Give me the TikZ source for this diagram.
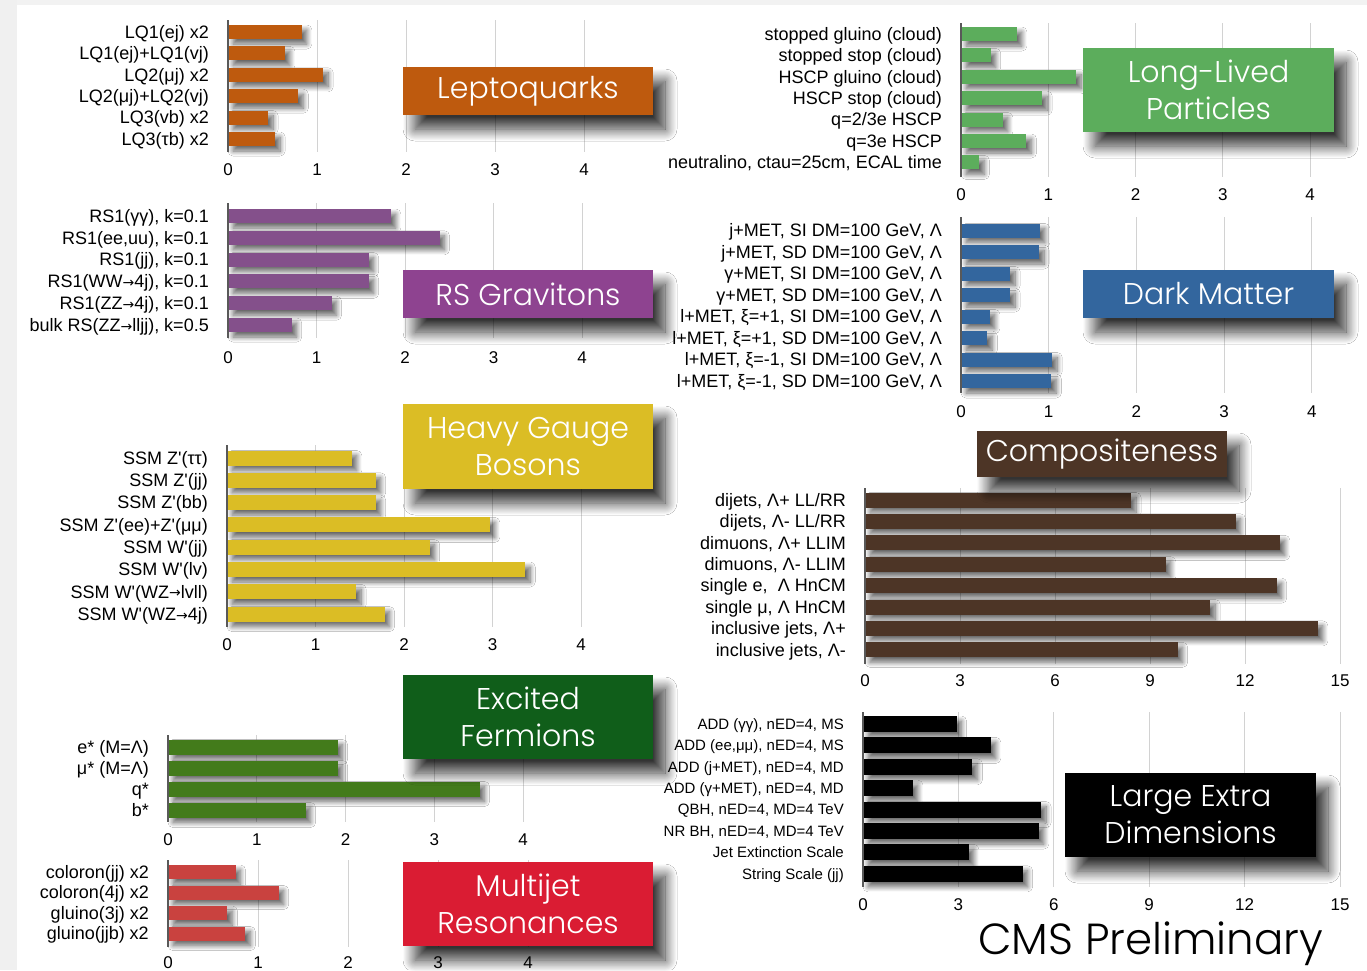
\documentclass[tikz,border=0pt]{standalone}
\usepackage{fontspec}
\setmainfont{Liberation Sans}
\newfontfamily\titlefont{Poppins Light}
\newfontfamily\symfont{DejaVu Sans}
\usepackage{tikz}
\usetikzlibrary{shadows.blur}
\usepackage{xcolor}

\definecolor{lqc}{HTML}{BE5A0E}
\definecolor{llpc}{HTML}{5CAD5C}
\definecolor{rsbar}{HTML}{84508B}
\definecolor{rsbox}{HTML}{8E4390}
\definecolor{dmc}{HTML}{33669E}
\definecolor{hgbc}{HTML}{DBBD25}
\definecolor{compc}{HTML}{4D3526}
\definecolor{efbar}{HTML}{437B1B}
\definecolor{efbox}{HTML}{105E1A}
\definecolor{mjbar}{HTML}{C9423F}
\definecolor{mjbox}{HTML}{DA1C33}

\newcommand{\rarr}{{\symfont\fontsize{14}{14}\selectfont\raisebox{0.3pt}{→}}}
\newcommand{\pr}{\textquotesingle}

\tikzset{
  gridline/.style={draw=gray!35, line width=1pt},
  axisline/.style={draw=black!65, line width=1.6pt},
  ticklbl/.style={inner sep=0, font=\fontsize{17}{19}\selectfont},
  lbl/.style={anchor=base east, inner sep=0, xshift=-19pt, yshift=-6.3pt, font=\fontsize{18}{20}\selectfont},
  barshadow/.style={blur shadow={shadow xshift=5pt, shadow yshift=-5pt, shadow blur radius=5pt, shadow blur steps=12, shadow opacity=60}},
  titlebox/.style={rectangle, inner sep=0, text=white, align=center,
    font=\titlefont\fontsize{30}{37}\selectfont,
    blur shadow={shadow xshift=12pt, shadow yshift=-14pt, shadow blur radius=12pt, shadow blur steps=20, shadow opacity=80}}
}

% #1 prefix, #2 tick list, #3 grid top, #4 grid bottom, #5 tick label y
\newcommand{\baraxis}[5]{%
  \foreach \t in {#2} {
    \draw[gridline] (\t,#3) -- (\t,#4);
    \node[ticklbl] (#1t\t) at (\t,#5) {\t};
  }
}
% #1 prefix, #2 first row, #3 row step, #4 half height, #5 colour, #6 data
\newcommand{\barrows}[6]{%
  \foreach \v/\l [count=\i] in {#6} {
    \pgfmathsetmacro\yy{#2+#3*(\i-1)}
    \fill[barshadow, fill=#5] (0,{\yy-#4}) rectangle (\v,{\yy+#4});
    \node[lbl] (#1\i) at (0,\yy) {\l};
  }
}

\begin{document}
\begin{tikzpicture}[x=1pt,y=-1pt]
\useasboundingbox (0,0) rectangle (1367,970);
\fill[white] (0,0) rectangle (1367,970);
\fill[gray!12] (0,0) rectangle (17,970);
\fill[gray!10] (17,0) rectangle (1367,5);

% Leptoquarks
\begin{scope}[shift={(228,0)},x=89pt]
  \baraxis{lq}{0,...,4}{20}{152}{170}
  \barrows{lq}{32}{21.4}{7}{lqc}{0.83/{LQ1(ej) x2}, 0.64/{LQ1(ej)+LQ1(vj)}, 1.07/{LQ2(μj) x2}, 0.79/{LQ2(μj)+LQ2(vj)}, 0.45/{LQ3(vb) x2}, 0.53/{LQ3(τb) x2}}
  \draw[axisline] (0,20) -- (0,152);
\end{scope}

% Long-lived particles
\begin{scope}[shift={(961,0)},x=87.3pt]
  \baraxis{llp}{0,...,4}{23}{177}{195}
  \barrows{llp}{34}{21.4}{7}{llpc}{0.64/{stopped gluino (cloud)}, 0.34/{stopped stop (cloud)}, 1.32/{HSCP gluino (cloud)}, 0.93/{HSCP stop (cloud)}, 0.48/{q=2/3e HSCP}, 0.75/{q=3e HSCP}, 0.21/{neutralino, ctau=25cm, ECAL time}}
  \draw[axisline] (0,23) -- (0,177);
\end{scope}

% RS gravitons
\begin{scope}[shift={(228,0)},x=88.5pt]
  \baraxis{rs}{0,...,4}{203}{338}{358}
  \barrows{rs}{216}{21.8}{7}{rsbar}{1.84/{RS1(γγ), k=0.1}, 2.39/{RS1(ee,uu), k=0.1}, 1.59/{RS1(jj), k=0.1}, 1.59/{RS1(WW\rarr4j), k=0.1}, 1.17/{RS1(ZZ\rarr4j), k=0.1}, 0.72/{bulk RS(ZZ\rarr lljj), k=0.5}}
  \draw[axisline] (0,203) -- (0,338);
\end{scope}

% Dark matter
\begin{scope}[shift={(961,0)},x=87.7pt]
  \baraxis{dm}{0,...,4}{217}{393}{412}
  \barrows{dm}{230.5}{21.5}{7}{dmc}{0.90/{j+MET, SI DM=100 GeV, Λ}, 0.89/{j+MET, SD DM=100 GeV, Λ}, 0.56/{γ+MET, SI DM=100 GeV, Λ}, 0.56/{γ+MET, SD DM=100 GeV, Λ}, 0.33/{l+MET, ξ=+1, SI DM=100 GeV, Λ}, 0.30/{l+MET, ξ=+1, SD DM=100 GeV, Λ}, 1.04/{l+MET, ξ=-1, SI DM=100 GeV, Λ}, 1.03/{l+MET, ξ=-1, SD DM=100 GeV, Λ}}
  \draw[axisline] (0,217) -- (0,393);
\end{scope}

% Heavy gauge bosons
\begin{scope}[shift={(227,0)},x=88.5pt]
  \baraxis{hgb}{0,...,4}{445}{627}{645}
  \barrows{hgb}{458}{22.3}{7.5}{hgbc}{1.41/{SSM Z\pr(ττ)}, 1.68/{SSM Z\pr(jj)}, 1.68/{SSM Z\pr(bb)}, 2.97/{SSM Z\pr(ee)+Z\pr(μμ)}, 2.29/{SSM W\pr(jj)}, 3.37/{SSM W\pr(lv)}, 1.46/{SSM W\pr(WZ\rarr lvll)}, 1.78/{SSM W\pr(WZ\rarr4j)}}
  \draw[axisline] (0,445) -- (0,627);
\end{scope}

% Compositeness
\begin{scope}[shift={(865,0)},x=31.67pt]
  \baraxis{comp}{0,3,...,15}{488}{664}{681}
  \barrows{comp}{500}{21.4}{7.5}{compc}{8.40/{dijets, Λ+ LL/RR}, 11.7/{dijets, Λ- LL/RR}, 13.1/{dimuons, Λ+ LLIM}, 9.5/{dimuons, Λ- LLIM}, 13.0/{single e,\ \ Λ HnCM}, 10.9/{single μ, Λ HnCM}, 14.3/{inclusive jets, Λ+}, 9.87/{inclusive jets, Λ-}}
  \draw[axisline] (0,488) -- (0,664);
\end{scope}

% Excited fermions
\begin{scope}[shift={(168,0)},x=88.75pt]
  \baraxis{ef}{0,...,4}{735}{822}{840}
  \barrows{ef}{747}{21}{7.5}{efbar}{1.91/{e* (M=Λ)}, 1.91/{μ* (M=Λ)}, 3.51/{q*}, 1.55/{b*}}
  \draw[axisline] (0,735) -- (0,822);
\end{scope}

% Multijet resonances
\begin{scope}[shift={(168,0)},x=90pt]
  \baraxis{mj}{0,...,4}{860}{947}{963}
  \barrows{mj}{872}{20.5}{7}{mjbar}{0.75/{coloron(jj) x2}, 1.23/{coloron(4j) x2}, 0.66/{gluino(3j) x2}, 0.86/{gluino(jjb) x2}}
  \draw[axisline] (0,860) -- (0,947);
\end{scope}

% Large extra dimensions
\begin{scope}[shift={(863,0)},x=31.8pt,lbl/.append style={yshift=1pt,font=\fontsize{15}{17}\selectfont}]
  \baraxis{led}{0,3,...,15}{712}{887}{905}
  \barrows{led}{724}{21.4}{8}{black}{2.94/{ADD (γγ), nED=4, MS}, 4.02/{ADD (ee,μμ), nED=4, MS}, 3.44/{ADD (j+MET), nED=4, MD}, 1.57/{ADD (γ+MET), nED=4, MD}, 5.60/{QBH, nED=4, MD=4 TeV}, 5.53/{NR BH, nED=4, MD=4 TeV}, 3.33/{Jet Extinction Scale}, 5.02/{String Scale (jj)}}
  \draw[axisline] (0,712) -- (0,887);
\end{scope}

% category boxes
\node[titlebox, fill=lqc, minimum width=250pt, minimum height=48pt] (lqtitle) at (528,91) {Leptoquarks};
\node[titlebox, fill=llpc, minimum width=251pt, minimum height=84pt] (llptitle) at (1208.5,90) {Long-Lived\\Particles};
\node[titlebox, fill=rsbox, minimum width=250pt, minimum height=48pt] (rstitle) at (528,294) {RS Gravitons};
\node[titlebox, fill=dmc, minimum width=251pt, minimum height=48pt] (dmtitle) at (1208.5,294) {Dark Matter};
\node[titlebox, fill=hgbc, minimum width=250pt, minimum height=85pt] (hgbtitle) at (528,446.5) {Heavy Gauge\\Bosons};
\node[titlebox, fill=compc, minimum width=250pt, minimum height=46pt] (comptitle) at (1102,454) {Compositeness};
\node[titlebox, fill=efbox, minimum width=250pt, minimum height=84pt] (eftitle) at (528,717) {Excited\\Fermions};
\node[titlebox, fill=mjbox, minimum width=250pt, minimum height=84pt] (mjtitle) at (528,904) {Multijet\\Resonances};
\node[titlebox, fill=black, minimum width=251pt, minimum height=84pt] (ledtitle) at (1190.5,815) {Large Extra\\Dimensions};

\node[anchor=base west, inner sep=0, font=\titlefont\fontsize{43.5}{44}\selectfont] (cms) at (978,954) {CMS Preliminary};
\end{tikzpicture}
\end{document}
